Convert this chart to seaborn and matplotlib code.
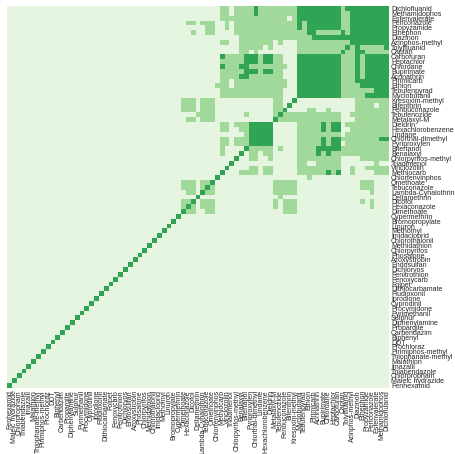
import numpy as np
import pandas as pd
import matplotlib
matplotlib.use("Agg")
import matplotlib.pyplot as plt
import seaborn as sns
from matplotlib.colors import ListedColormap

# pesticides, top row to bottom row as displayed
pesticides = [
    "Dichlofluanid", "Methamidophos", "Esfenvalerate", "Penconazole", "Propyzamide",
    "Ethephon", "Diazinon", "Azinphos-methyl", "Tolylfluanid", "Captan",
    "Carbofuran", "Heptachlor", "Chlordane", "Bupirimate", "Acrinathrin",
    "Pirimicarb", "Ethion", "Tebufenpyrad", "Myclobutanil", "Kresoxim-methyl",
    "Bifenthrin", "Fenbuconazole", "Tebufenozide", "Metalaxyl-M", "Dieldrin",
    "Hexachlorobenzene", "Lindane", "Chlorthal-dimethyl", "Pyriproxyfen", "Bitertanol",
    "Benalaxyl", "Chlorpyrifos-methyl", "Triadimenol", "Vinclozolin", "Methiocarb",
    "Chlorfenvinphos", "Omethoate", "Tebuconazole", "Lambda-Cyhalothrin", "Deltamethrin",
    "Dicofol", "Hexaconazole", "Dimethoate", "Cypermethrin", "Bromopropylate",
    "Linuron", "Methomyl", "Imidacloprid", "Chlorothalonil", "Methidathion",
    "Chlorpyrifos", "Phosalone", "Azoxystrobin", "Endosulfan", "Dichlorvos",
    "Fenitrothion", "Fenoxycarb", "Folpet", "Dithiocarbamate", "Fludioxonil",
    "Iprodione", "Cyprodinil", "Procymidone", "Pyrimethanil", "Sulphur",
    "Diphenylamine", "Propargite", "Carbendazim", "Biphenyl", "DDT",
    "Prochloraz", "Pirimiphos-methyl", "Thiophanate-methyl", "Malathion", "Imazalil",
    "Thiabendazole", "Chlorpropham", "Maleic hydrazide", "Fenhexamid",
]

# co-occurrence level (0 none, 1 some, 2 strong), one half of the symmetric matrix
# each string: displayed rows from the top, starting at the 33rd column from the left
first_col = 32
half_rows = [
    "000000000000 11 0 1111 2 11111111 222222222 1 2 2222222",
    "000000000000 11 0 1111 2 11111111 222222222 11 222222",
    "000000000000 11111111111111 0 1 222222222 11 22222",
    "00000 11 0 111 00 1 0 1111111111111 2 1 2222222 11 2222",
    "000000000 11 00 1 0 1111111111111 2 1 2222222 11 222",
    "000000 1 00 11 0000 111111111111111 22 11111 2 1 22",
    "0000000000000000 111111111111111 222222222",
    "000000000000 11 00 1111111 0 1 000 11111111111",
    "0000000000000000 11111 0 1 00000 1111111111",
    "0000000000000000 11 0 1 00000000 111111111",
    "000000000000 2 1111 222 1 22 11 000 22222222",
    "000000000000 11111 222 1 22 11 000 2222222",
    "000000000000 2 111 22 1111111 1 00 222222",
    "000000000000 11111 222 1 22 11 000 22222",
    "000000000000 1111 22 1111111 000 2222",
    "000000000000 11 0 11111111111 00 222",
    "00000000000 111 0 11111111111 00 22",
    "000000000000 1111111111111 000 2",
    "000000000000 1111111111111 000",
    "0000 111 0 111 000000000000 11 00",
    "0000 111 0 111 000000000000 11 0",
    "0000 111 0 111 000000000000 11",
    "0000000 1 111 000000 1 00000 1",
    "00000 11 0 111 000000000000",
    "000000000000 11 0 111 2222",
    "000000000000 11 0 0 11 222",
    "00000000000000000 1 22",
    "000000000000 11 0 111 2",
    "000000000000 11 0 111",
    "000000000000 1 0000",
    "000000000000 1 000",
    "000000000000000",
    "00000000000000",
    "0000000000000",
    "000000000000",
    "00000000000",
    "0000 111 0 11",
    "0000 111 0 1",
    "0000 0 11 0",
    "0000000",
    "0000 11",
    "0000 1",
]

levels = ["#e5f5e0", "#a1d99b", "#31a354"]

n = len(pesticides)
grid = np.zeros((n, n), dtype=int)
for i, row in enumerate(half_rows):
    vals = [int(ch) for ch in row.replace(" ", "")]
    grid[i, first_col:first_col + len(vals)] = vals

# reorder so row k and column k are the same pesticide (bottom-up order)
order = pesticides[::-1]
mat = grid[::-1, :]
mat = np.maximum(mat, mat.T)
np.fill_diagonal(mat, 2)
df = pd.DataFrame(mat, index=order, columns=order)

sns.set_theme(style="white")
plt.rcParams["font.family"] = ["Liberation Sans", "DejaVu Sans"]

fig = plt.figure(figsize=(4.55, 4.54), dpi=100)
ax = fig.add_axes([7 / 455, 1 - 388 / 454, 382 / 455, 382 / 454])
sns.heatmap(df, cmap=ListedColormap(levels), vmin=-0.5, vmax=2.5, cbar=False,
            xticklabels=True, yticklabels=True, ax=ax)
ax.invert_yaxis()
ax.yaxis.tick_right()
ax.set_xlabel("")
ax.set_ylabel("")
ax.tick_params(axis="both", length=0, pad=1.5, labelsize=5.0)
plt.setp(ax.get_xticklabels(), rotation=90)
plt.setp(ax.get_yticklabels(), rotation=0)

fig.savefig("out.png", dpi=100)
plt.close(fig)
